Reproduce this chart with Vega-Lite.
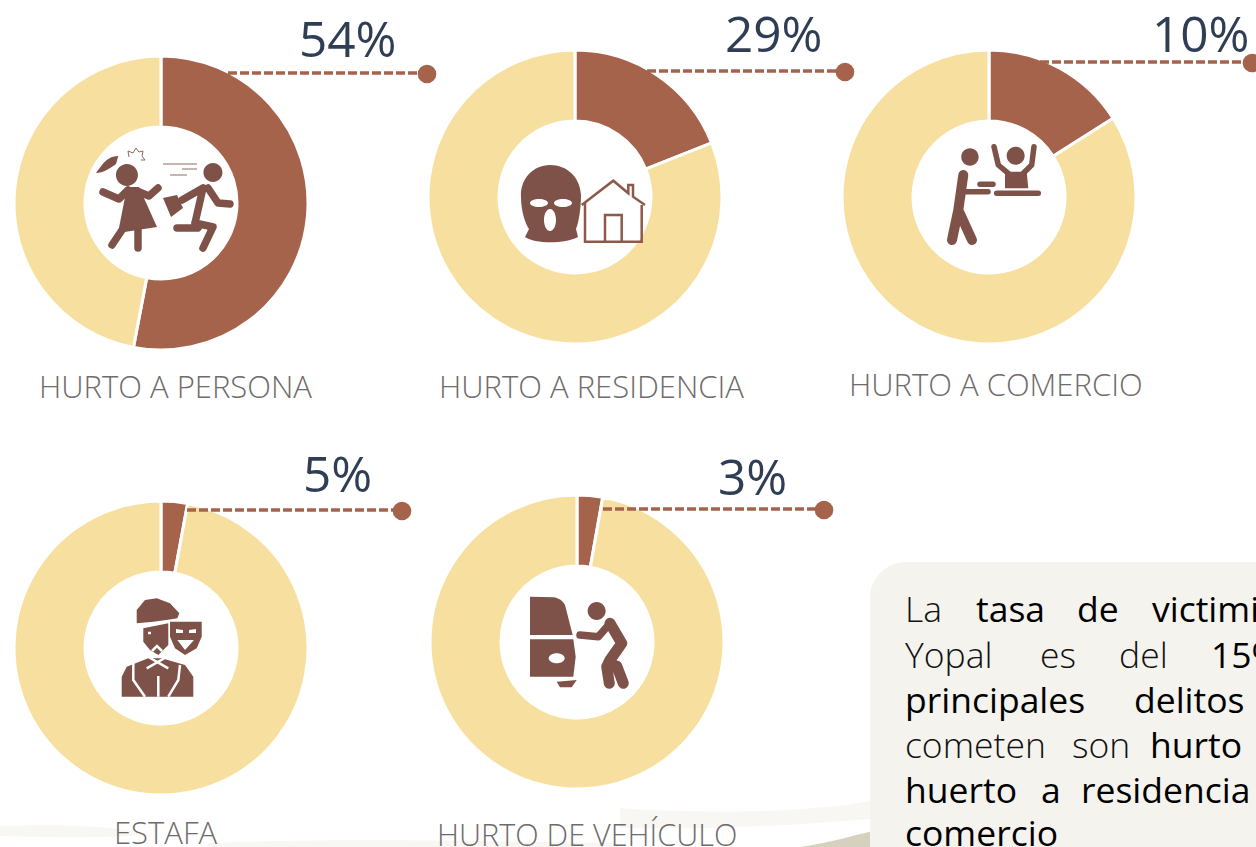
{"$schema":"https://vega.github.io/schema/vega-lite/v6.json","width":1256,"height":847,"padding":0,"autosize":{"type":"none"},"background":"#ffffff","config":{"view":{"stroke":null}},
"datasets":{
"partes":[
{"delito":"HURTO A PERSONA","parte":"delito","valor":53},{"delito":"HURTO A PERSONA","parte":"resto","valor":47},
{"delito":"HURTO A RESIDENCIA","parte":"delito","valor":19},{"delito":"HURTO A RESIDENCIA","parte":"resto","valor":81},
{"delito":"HURTO A COMERCIO","parte":"delito","valor":16},{"delito":"HURTO A COMERCIO","parte":"resto","valor":84},
{"delito":"ESTAFA","parte":"delito","valor":2.9},{"delito":"ESTAFA","parte":"resto","valor":97.1},
{"delito":"HURTO DE VEHÍCULO","parte":"delito","valor":2.8},{"delito":"HURTO DE VEHÍCULO","parte":"resto","valor":97.2}],
"delitos":[
{"delito":"HURTO A PERSONA","etiqueta":"54%"},{"delito":"HURTO A RESIDENCIA","etiqueta":"29%"},{"delito":"HURTO A COMERCIO","etiqueta":"10%"},{"delito":"ESTAFA","etiqueta":"5%"},{"delito":"HURTO DE VEHÍCULO","etiqueta":"3%"}],
"palabras":[{"palabra":"La"},{"palabra":"tasa"},{"palabra":"de"},{"palabra":"victimi"},{"palabra":"Yopal"},{"palabra":"es"},{"palabra":"del"},{"palabra":"15%"},{"palabra":"principales"},{"palabra":"delitos"},{"palabra":"cometen"},{"palabra":"son"},{"palabra":"hurto"},{"palabra":"huerto"},{"palabra":"a"},{"palabra":"residencia"},{"palabra":"comercio"}]
},
"layer":[
{"data":{"name":"palabras"},"transform":[{"filter":{"field":"palabra","equal":"La"}}],"mark":{"type":"point","filled":true,"opacity":1,"size":4,"fill":"#f8f7f3","stroke":null,"shape":"M-628 -1 C-560 -3 -520 -1 -480 7 C-520 12 -580 10 -628 9 Z M-420 16 C-300 11 -150 14 -10 16 L-10 20 L-420 20 Z M-8 -19 C90 -12 180 -15 242 -26 L242 -8 C170 -2 90 3 -8 1 Z"},"encoding":{"x":{"datum":628,"axis":null,"scale":{"domain":[0,1256]}},"y":{"datum":827,"axis":null,"scale":{"domain":[0,847],"range":[0,847]}}}},
{"data":{"name":"palabras"},"transform":[{"filter":{"field":"palabra","equal":"La"}}],"mark":{"type":"point","filled":true,"opacity":1,"size":4,"fill":"#d6d0bf","stroke":null,"shape":"M172 20 C195 17 220 10 245 4 L245 20 Z"},"encoding":{"x":{"datum":628,"scale":{"domain":[0,1256]}},"y":{"datum":827,"scale":{"domain":[0,847],"range":[0,847]}}}},
{"data":{"name":"palabras"},"transform":[{"filter":{"field":"palabra","equal":"La"}}],"mark":{"type":"rect","fill":"#f4f3ee","cornerRadius":36,"clip":true},"encoding":{"x":{"datum":870,"scale":{"domain":[0,1256]}},"x2":{"datum":1330},"y":{"datum":562,"scale":{"domain":[0,847],"range":[0,847]}},"y2":{"datum":900}}},

{"data":{"name":"partes"},"transform":[{"filter":{"field":"delito","equal":"HURTO A PERSONA"}}],"mark":{"type":"arc","radius":147,"radius2":76,"stroke":"#ffffff","strokeWidth":3},"encoding":{"x":{"datum":161,"scale":{"domain":[0,1256]}},"y":{"datum":203,"scale":{"domain":[0,847],"range":[0,847]}},"theta":{"field":"valor","type":"quantitative","stack":true,"scale":{"domain":[0,100],"range":[0,6.2832]}},"color":{"field":"parte","type":"nominal","legend":null,"sort":["delito","resto"],"scale":{"domain":["delito","resto"],"range":["#a5634c","#f7e09f"]}},"order":{"field":"parte"}}},
{"data":{"name":"partes"},"transform":[{"filter":{"field":"delito","equal":"HURTO A RESIDENCIA"}}],"mark":{"type":"arc","radius":147,"radius2":76,"stroke":"#ffffff","strokeWidth":3},"encoding":{"x":{"datum":575,"scale":{"domain":[0,1256]}},"y":{"datum":197,"scale":{"domain":[0,847],"range":[0,847]}},"theta":{"field":"valor","type":"quantitative","stack":true},"color":{"field":"parte","type":"nominal","legend":null},"order":{"field":"parte"}}},
{"data":{"name":"partes"},"transform":[{"filter":{"field":"delito","equal":"HURTO A COMERCIO"}}],"mark":{"type":"arc","radius":147,"radius2":76,"stroke":"#ffffff","strokeWidth":3},"encoding":{"x":{"datum":989,"scale":{"domain":[0,1256]}},"y":{"datum":197,"scale":{"domain":[0,847],"range":[0,847]}},"theta":{"field":"valor","type":"quantitative","stack":true},"color":{"field":"parte","type":"nominal","legend":null},"order":{"field":"parte"}}},
{"data":{"name":"partes"},"transform":[{"filter":{"field":"delito","equal":"ESTAFA"}}],"mark":{"type":"arc","radius":147,"radius2":76,"stroke":"#ffffff","strokeWidth":3},"encoding":{"x":{"datum":161,"scale":{"domain":[0,1256]}},"y":{"datum":648,"scale":{"domain":[0,847],"range":[0,847]}},"theta":{"field":"valor","type":"quantitative","stack":true},"color":{"field":"parte","type":"nominal","legend":null},"order":{"field":"parte"}}},
{"data":{"name":"partes"},"transform":[{"filter":{"field":"delito","equal":"HURTO DE VEHÍCULO"}}],"mark":{"type":"arc","radius":147,"radius2":76,"stroke":"#ffffff","strokeWidth":3},"encoding":{"x":{"datum":577,"scale":{"domain":[0,1256]}},"y":{"datum":642,"scale":{"domain":[0,847],"range":[0,847]}},"theta":{"field":"valor","type":"quantitative","stack":true},"color":{"field":"parte","type":"nominal","legend":null},"order":{"field":"parte"}}},

{"data":{"name":"delitos"},"transform":[{"filter":{"field":"delito","equal":"HURTO A PERSONA"}}],"mark":{"type":"rule","color":"#a5634c","strokeWidth":3.5,"strokeDash":[9,3]},"encoding":{"x":{"datum":228,"scale":{"domain":[0,1256]}},"x2":{"datum":427},"y":{"datum":73,"scale":{"domain":[0,847],"range":[0,847]}}}},
{"data":{"name":"delitos"},"transform":[{"filter":{"field":"delito","equal":"HURTO A RESIDENCIA"}}],"mark":{"type":"rule","color":"#a5634c","strokeWidth":3.5,"strokeDash":[9,3]},"encoding":{"x":{"datum":647,"scale":{"domain":[0,1256]}},"x2":{"datum":845},"y":{"datum":71,"scale":{"domain":[0,847],"range":[0,847]}}}},
{"data":{"name":"delitos"},"transform":[{"filter":{"field":"delito","equal":"HURTO A COMERCIO"}}],"mark":{"type":"rule","color":"#a5634c","strokeWidth":3.5,"strokeDash":[9,3]},"encoding":{"x":{"datum":1040,"scale":{"domain":[0,1256]}},"x2":{"datum":1252},"y":{"datum":62,"scale":{"domain":[0,847],"range":[0,847]}}}},
{"data":{"name":"delitos"},"transform":[{"filter":{"field":"delito","equal":"ESTAFA"}}],"mark":{"type":"rule","color":"#a5634c","strokeWidth":3.5,"strokeDash":[9,3]},"encoding":{"x":{"datum":187,"scale":{"domain":[0,1256]}},"x2":{"datum":402},"y":{"datum":510,"scale":{"domain":[0,847],"range":[0,847]}}}},
{"data":{"name":"delitos"},"transform":[{"filter":{"field":"delito","equal":"HURTO DE VEHÍCULO"}}],"mark":{"type":"rule","color":"#a5634c","strokeWidth":3.5,"strokeDash":[9,3]},"encoding":{"x":{"datum":603,"scale":{"domain":[0,1256]}},"x2":{"datum":824},"y":{"datum":509,"scale":{"domain":[0,847],"range":[0,847]}}}},

{"data":{"name":"delitos"},"transform":[{"filter":{"field":"delito","equal":"HURTO A PERSONA"}}],"mark":{"type":"point","filled":true,"opacity":1,"size":346,"color":"#a5634c"},"encoding":{"x":{"datum":427,"scale":{"domain":[0,1256]}},"y":{"datum":74,"scale":{"domain":[0,847],"range":[0,847]}}}},
{"data":{"name":"delitos"},"transform":[{"filter":{"field":"delito","equal":"HURTO A RESIDENCIA"}}],"mark":{"type":"point","filled":true,"opacity":1,"size":346,"color":"#a5634c"},"encoding":{"x":{"datum":845,"scale":{"domain":[0,1256]}},"y":{"datum":72,"scale":{"domain":[0,847],"range":[0,847]}}}},
{"data":{"name":"delitos"},"transform":[{"filter":{"field":"delito","equal":"HURTO A COMERCIO"}}],"mark":{"type":"point","filled":true,"opacity":1,"size":346,"color":"#a5634c"},"encoding":{"x":{"datum":1252,"scale":{"domain":[0,1256]}},"y":{"datum":63,"scale":{"domain":[0,847],"range":[0,847]}}}},
{"data":{"name":"delitos"},"transform":[{"filter":{"field":"delito","equal":"ESTAFA"}}],"mark":{"type":"point","filled":true,"opacity":1,"size":346,"color":"#a5634c"},"encoding":{"x":{"datum":402,"scale":{"domain":[0,1256]}},"y":{"datum":511,"scale":{"domain":[0,847],"range":[0,847]}}}},
{"data":{"name":"delitos"},"transform":[{"filter":{"field":"delito","equal":"HURTO DE VEHÍCULO"}}],"mark":{"type":"point","filled":true,"opacity":1,"size":346,"color":"#a5634c"},"encoding":{"x":{"datum":824,"scale":{"domain":[0,1256]}},"y":{"datum":510,"scale":{"domain":[0,847],"range":[0,847]}}}},

{"data":{"name":"delitos"},"transform":[{"filter":{"field":"delito","equal":"HURTO A PERSONA"}}],"mark":{"type":"text","align":"left","baseline":"alphabetic","font":"Open Sans","fontWeight":500,"fontSize":49.5,"color":"#2f3e55"},"encoding":{"text":{"field":"etiqueta"},"x":{"datum":299,"scale":{"domain":[0,1256]}},"y":{"datum":57,"scale":{"domain":[0,847],"range":[0,847]}}}},
{"data":{"name":"delitos"},"transform":[{"filter":{"field":"delito","equal":"HURTO A RESIDENCIA"}}],"mark":{"type":"text","align":"left","baseline":"alphabetic","font":"Open Sans","fontWeight":500,"fontSize":49.5,"color":"#2f3e55"},"encoding":{"text":{"field":"etiqueta"},"x":{"datum":725,"scale":{"domain":[0,1256]}},"y":{"datum":52,"scale":{"domain":[0,847],"range":[0,847]}}}},
{"data":{"name":"delitos"},"transform":[{"filter":{"field":"delito","equal":"HURTO A COMERCIO"}}],"mark":{"type":"text","align":"left","baseline":"alphabetic","font":"Open Sans","fontWeight":500,"fontSize":49.5,"color":"#2f3e55"},"encoding":{"text":{"field":"etiqueta"},"x":{"datum":1152,"scale":{"domain":[0,1256]}},"y":{"datum":52,"scale":{"domain":[0,847],"range":[0,847]}}}},
{"data":{"name":"delitos"},"transform":[{"filter":{"field":"delito","equal":"ESTAFA"}}],"mark":{"type":"text","align":"left","baseline":"alphabetic","font":"Open Sans","fontWeight":500,"fontSize":49.5,"color":"#2f3e55"},"encoding":{"text":{"field":"etiqueta"},"x":{"datum":303,"scale":{"domain":[0,1256]}},"y":{"datum":492,"scale":{"domain":[0,847],"range":[0,847]}}}},
{"data":{"name":"delitos"},"transform":[{"filter":{"field":"delito","equal":"HURTO DE VEHÍCULO"}}],"mark":{"type":"text","align":"left","baseline":"alphabetic","font":"Open Sans","fontWeight":500,"fontSize":49.5,"color":"#2f3e55"},"encoding":{"text":{"field":"etiqueta"},"x":{"datum":718,"scale":{"domain":[0,1256]}},"y":{"datum":495,"scale":{"domain":[0,847],"range":[0,847]}}}},

{"data":{"name":"delitos"},"transform":[{"filter":{"field":"delito","equal":"HURTO A PERSONA"}}],"mark":{"type":"text","align":"left","baseline":"alphabetic","font":"Open Sans","fontWeight":300,"fontSize":31,"color":"#6f6b6b"},"encoding":{"text":{"field":"delito"},"x":{"datum":39,"scale":{"domain":[0,1256]}},"y":{"datum":398,"scale":{"domain":[0,847],"range":[0,847]}}}},
{"data":{"name":"delitos"},"transform":[{"filter":{"field":"delito","equal":"HURTO A RESIDENCIA"}}],"mark":{"type":"text","align":"left","baseline":"alphabetic","font":"Open Sans","fontWeight":300,"fontSize":31,"color":"#6f6b6b"},"encoding":{"text":{"field":"delito"},"x":{"datum":439,"scale":{"domain":[0,1256]}},"y":{"datum":398,"scale":{"domain":[0,847],"range":[0,847]}}}},
{"data":{"name":"delitos"},"transform":[{"filter":{"field":"delito","equal":"HURTO A COMERCIO"}}],"mark":{"type":"text","align":"left","baseline":"alphabetic","font":"Open Sans","fontWeight":300,"fontSize":31,"color":"#6f6b6b"},"encoding":{"text":{"field":"delito"},"x":{"datum":849,"scale":{"domain":[0,1256]}},"y":{"datum":396,"scale":{"domain":[0,847],"range":[0,847]}}}},
{"data":{"name":"delitos"},"transform":[{"filter":{"field":"delito","equal":"ESTAFA"}}],"mark":{"type":"text","align":"left","baseline":"alphabetic","font":"Open Sans","fontWeight":300,"fontSize":31,"color":"#6f6b6b"},"encoding":{"text":{"field":"delito"},"x":{"datum":114,"scale":{"domain":[0,1256]}},"y":{"datum":844,"scale":{"domain":[0,847],"range":[0,847]}}}},
{"data":{"name":"delitos"},"transform":[{"filter":{"field":"delito","equal":"HURTO DE VEHÍCULO"}}],"mark":{"type":"text","align":"left","baseline":"alphabetic","font":"Open Sans","fontWeight":300,"fontSize":30.6,"color":"#6f6b6b"},"encoding":{"text":{"field":"delito"},"x":{"datum":437,"scale":{"domain":[0,1256]}},"y":{"datum":846,"scale":{"domain":[0,847],"range":[0,847]}}}},

{"data":{"name":"delitos"},"transform":[{"filter":{"field":"delito","equal":"HURTO A PERSONA"}}],"mark":{"type":"point","filled":true,"opacity":1,"size":4,"color":"#7e5248","shape":"M-34 -39 a11 11 0 1 1 -0.1 0 Z M-42.7 -47 C-55 -47 -60 -36 -65 -30 C-58 -30 -50 -35 -45 -39 Z M-34 -16 L-43 30 L-4 24 L-22 -16 Z M52 -40 a9.5 9.5 0 1 1 -0.1 0 Z M2 -5 L16 -8 L22 5 L10 14 Z"},"encoding":{"x":{"datum":161,"scale":{"domain":[0,1256]}},"y":{"datum":203,"scale":{"domain":[0,847],"range":[0,847]}}}},
{"data":{"name":"delitos"},"transform":[{"filter":{"field":"delito","equal":"HURTO A PERSONA"}}],"mark":{"type":"point","filled":false,"opacity":1,"size":4,"color":"#7e5248","strokeWidth":7.5,"strokeCap":"round","strokeJoin":"round","shape":"M-58 -11 L-42 -4 L-33 -13 M-3 -15 L-12 -7 L-24 -12 M-39 27 L-49 42 M-23 27 L-23 45 M42 -15 L34 20 M42 -15 L21 -3 M47 -15 L57 0 L69 1 M34 20 L37 25 L16 25 M34 20 L52 24 L42 45"},"encoding":{"x":{"datum":161,"scale":{"domain":[0,1256]}},"y":{"datum":203,"scale":{"domain":[0,847],"range":[0,847]}}}},
{"data":{"name":"delitos"},"transform":[{"filter":{"field":"delito","equal":"HURTO A PERSONA"}}],"mark":{"type":"point","filled":false,"opacity":1,"size":4,"color":"#8d6a60","strokeWidth":1,"shape":"M2 -39 L36 -39 M21 -34 L36 -34 M9 -28 L26 -28 M-32 -46 L-33 -52 L-28 -50 L-25 -55 L-22 -51 L-18 -52 L-19 -47 L-16 -43 L-20 -43"},"encoding":{"x":{"datum":161,"scale":{"domain":[0,1256]}},"y":{"datum":203,"scale":{"domain":[0,847],"range":[0,847]}}}},

{"data":{"name":"delitos"},"transform":[{"filter":{"field":"delito","equal":"HURTO A RESIDENCIA"}}],"mark":{"type":"point","filled":true,"opacity":1,"size":4,"color":"#7e5248","shape":"M-25 -32 C-42 -32 -55 -18 -54 0 C-54 15 -49 28 -46 32 L-50 40 C-40 47 -10 47 3 40 L1 32 C4 25 6 10 6 -2 C5 -20 -8 -32 -25 -32 Z M-45 6 a9 4 0 0 1 18 0 a9 4 0 0 1 -18 0 Z M-21 6 a9 4 0 0 1 18 0 a9 4 0 0 1 -18 0 Z M-31 23 a6 11 0 0 1 12 0 a6 11 0 0 1 -12 0 Z"},"encoding":{"x":{"datum":575,"scale":{"domain":[0,1256]}},"y":{"datum":197,"scale":{"domain":[0,847],"range":[0,847]}}}},
{"data":{"name":"delitos"},"transform":[{"filter":{"field":"delito","equal":"HURTO A RESIDENCIA"}}],"mark":{"type":"point","filled":false,"opacity":1,"size":4,"color":"#8d5a4a","strokeWidth":2.5,"shape":"M6.7 8 L38.3 -16.3 L53.3 -3.7 L53.3 -12 L58 -12 L58 -0.3 L70 8 M10 6.3 L10 44.7 L66.7 44.7 L66.7 8 M30 44.7 L30 18 L46.7 18 L46.7 44.7"},"encoding":{"x":{"datum":575,"scale":{"domain":[0,1256]}},"y":{"datum":197,"scale":{"domain":[0,847],"range":[0,847]}}}},

{"data":{"name":"delitos"},"transform":[{"filter":{"field":"delito","equal":"HURTO A COMERCIO"}}],"mark":{"type":"point","filled":true,"opacity":1,"size":4,"color":"#7e5248","shape":"M-19 -48.7 a8.7 8.7 0 1 1 -0.1 0 Z M26.7 -50.3 a9 9 0 1 1 -0.1 0 Z M16 -25.3 L37.7 -25.3 L39.3 -8.7 L16 -8.7 Z"},"encoding":{"x":{"datum":989,"scale":{"domain":[0,1256]}},"y":{"datum":197,"scale":{"domain":[0,847],"range":[0,847]}}}},
{"data":{"name":"delitos"},"transform":[{"filter":{"field":"delito","equal":"HURTO A COMERCIO"}}],"mark":{"type":"point","filled":false,"opacity":1,"size":4,"color":"#7e5248","strokeWidth":10,"strokeCap":"round","strokeJoin":"round","shape":"M-25.7 -22 L-30.7 13 M-30.7 13 L-37 43 M-30.7 13 L-17 43"},"encoding":{"x":{"datum":989,"scale":{"domain":[0,1256]}},"y":{"datum":197,"scale":{"domain":[0,847],"range":[0,847]}}}},
{"data":{"name":"delitos"},"transform":[{"filter":{"field":"delito","equal":"HURTO A COMERCIO"}}],"mark":{"type":"point","filled":false,"opacity":1,"size":4,"color":"#7e5248","strokeWidth":5.5,"strokeCap":"round","strokeJoin":"round","shape":"M-25.7 -5.3 L-1 -5.3 M-9 -12.7 L4 -12.7 M5 -50.3 L9.3 -32 L19.3 -23.7 M45 -50.3 L42.7 -32 L34.3 -23.7 M7.7 -3.7 L49.3 -3.7"},"encoding":{"x":{"datum":989,"scale":{"domain":[0,1256]}},"y":{"datum":197,"scale":{"domain":[0,847],"range":[0,847]}}}},

{"data":{"name":"delitos"},"transform":[{"filter":{"field":"delito","equal":"ESTAFA"}}],"mark":{"type":"point","filled":true,"opacity":1,"size":4,"color":"#7e5248","shape":"M-24.3 -24.7 L-24.3 -38 L-16 -48 L-4.3 -49.7 L9 -44.7 L18.3 -34.7 L16.3 -29.7 L5.7 -28 L-7.7 -26.3 Z M-17.7 -19.7 L7.3 -24.7 L7.3 -3 L-2.7 7 L-11 2 L-17.7 -6.3 Z M9 -26.3 L40.7 -26.3 L40.7 -11.3 L35.7 0.3 L24 7 L14 0.3 L9 -11.3 Z M15 -19 L15 -15 L22 -15 L22 -18 Z M28 -18 L28 -15 L35 -15 L35 -19 Z M16.3 -8 L24 2 L33 -8 Z M-39.3 48.7 L-39.3 28.7 L-34.3 18.7 L-12.7 10.3 L0.7 10.3 L24 17 L32.3 28.7 L32.3 48.7 Z"},"encoding":{"x":{"datum":161,"scale":{"domain":[0,1256]}},"y":{"datum":648,"scale":{"domain":[0,847],"range":[0,847]}}}},
{"data":{"name":"delitos"},"transform":[{"filter":{"field":"delito","equal":"ESTAFA"}}],"mark":{"type":"point","filled":false,"opacity":1,"size":4,"color":"#ffffff","strokeWidth":2.5,"shape":"M-27.7 15.3 L-27.7 32 L-16 48.7 M19 17 L17.3 32 L7.3 48.7 M-16 7 L7.3 20.3 M9 7 L-14.3 20.3 M-9 3 L-4 -2 L1 3 M-13 -15 L-10 -15 M-2.7 28 L-2.7 48.7 M-24 -21 L8 -27"},"encoding":{"x":{"datum":161,"scale":{"domain":[0,1256]}},"y":{"datum":648,"scale":{"domain":[0,847],"range":[0,847]}}}},

{"data":{"name":"delitos"},"transform":[{"filter":{"field":"delito","equal":"HURTO DE VEHÍCULO"}}],"mark":{"type":"point","filled":true,"opacity":1,"size":4,"color":"#7e5248","shape":"M-47 -45.3 L-23.7 -44.7 C-18 -44 -14 -41 -12 -37 L-4.3 -7 L-47 -7 Z M-47 -2.7 L-3.7 -2.7 L-1.3 14.7 L-3.7 34.7 L-47 34.7 Z M-28.3 16.3 a8 5 0 0 0 16 0 a8 5 0 0 0 -16 0 Z M-20.3 39.7 L-0.3 38 L-5.3 45.3 L-17 45.3 Z M19.7 -40 a9 9 0 1 1 -0.1 0 Z"},"encoding":{"x":{"datum":577,"scale":{"domain":[0,1256]}},"y":{"datum":642,"scale":{"domain":[0,847],"range":[0,847]}}}},
{"data":{"name":"delitos"},"transform":[{"filter":{"field":"delito","equal":"HURTO DE VEHÍCULO"}}],"mark":{"type":"point","filled":false,"opacity":1,"size":4,"color":"#7e5248","strokeWidth":11,"strokeCap":"round","strokeJoin":"round","shape":"M33 -18.7 L44.7 1.3 L33 18 L29.7 24.7 L32.3 41.3 M39.7 24 L46.3 41.3"},"encoding":{"x":{"datum":577,"scale":{"domain":[0,1256]}},"y":{"datum":642,"scale":{"domain":[0,847],"range":[0,847]}}}},
{"data":{"name":"delitos"},"transform":[{"filter":{"field":"delito","equal":"HURTO DE VEHÍCULO"}}],"mark":{"type":"point","filled":false,"opacity":1,"size":4,"color":"#7e5248","strokeWidth":7.5,"strokeCap":"round","strokeJoin":"round","shape":"M3 -7 L21.3 -5.3 L33 -18.7"},"encoding":{"x":{"datum":577,"scale":{"domain":[0,1256]}},"y":{"datum":642,"scale":{"domain":[0,847],"range":[0,847]}}}},

{"data":{"name":"palabras"},"transform":[{"filter":{"field":"palabra","equal":"La"}}],"mark":{"type":"text","align":"left","baseline":"alphabetic","font":"Open Sans","fontWeight":300,"fontSize":35.5,"color":"#111111"},"encoding":{"text":{"field":"palabra"},"x":{"datum":905,"scale":{"domain":[0,1256]}},"y":{"datum":622,"scale":{"domain":[0,847],"range":[0,847]}}}},
{"data":{"name":"palabras"},"transform":[{"filter":{"field":"palabra","equal":"tasa"}}],"mark":{"type":"text","align":"left","baseline":"alphabetic","font":"Open Sans","fontSize":35.5,"color":"#000000"},"encoding":{"text":{"field":"palabra"},"x":{"datum":976,"scale":{"domain":[0,1256]}},"y":{"datum":622,"scale":{"domain":[0,847],"range":[0,847]}}}},
{"data":{"name":"palabras"},"transform":[{"filter":{"field":"palabra","equal":"de"}}],"mark":{"type":"text","align":"left","baseline":"alphabetic","font":"Open Sans","fontSize":35.5,"color":"#000000"},"encoding":{"text":{"field":"palabra"},"x":{"datum":1077,"scale":{"domain":[0,1256]}},"y":{"datum":622,"scale":{"domain":[0,847],"range":[0,847]}}}},
{"data":{"name":"palabras"},"transform":[{"filter":{"field":"palabra","equal":"victimi"}}],"mark":{"type":"text","align":"left","baseline":"alphabetic","font":"Open Sans","fontSize":35.5,"color":"#000000"},"encoding":{"text":{"field":"palabra"},"x":{"datum":1152,"scale":{"domain":[0,1256]}},"y":{"datum":622,"scale":{"domain":[0,847],"range":[0,847]}}}},
{"data":{"name":"palabras"},"transform":[{"filter":{"field":"palabra","equal":"Yopal"}}],"mark":{"type":"text","align":"left","baseline":"alphabetic","font":"Open Sans","fontWeight":300,"fontSize":35.5,"color":"#111111"},"encoding":{"text":{"field":"palabra"},"x":{"datum":905,"scale":{"domain":[0,1256]}},"y":{"datum":668,"scale":{"domain":[0,847],"range":[0,847]}}}},
{"data":{"name":"palabras"},"transform":[{"filter":{"field":"palabra","equal":"es"}}],"mark":{"type":"text","align":"left","baseline":"alphabetic","font":"Open Sans","fontWeight":300,"fontSize":35.5,"color":"#111111"},"encoding":{"text":{"field":"palabra"},"x":{"datum":1040,"scale":{"domain":[0,1256]}},"y":{"datum":668,"scale":{"domain":[0,847],"range":[0,847]}}}},
{"data":{"name":"palabras"},"transform":[{"filter":{"field":"palabra","equal":"del"}}],"mark":{"type":"text","align":"left","baseline":"alphabetic","font":"Open Sans","fontWeight":300,"fontSize":35.5,"color":"#111111"},"encoding":{"text":{"field":"palabra"},"x":{"datum":1119,"scale":{"domain":[0,1256]}},"y":{"datum":668,"scale":{"domain":[0,847],"range":[0,847]}}}},
{"data":{"name":"palabras"},"transform":[{"filter":{"field":"palabra","equal":"15%"}}],"mark":{"type":"text","align":"left","baseline":"alphabetic","font":"Open Sans","fontSize":35.5,"color":"#000000"},"encoding":{"text":{"field":"palabra"},"x":{"datum":1211,"scale":{"domain":[0,1256]}},"y":{"datum":668,"scale":{"domain":[0,847],"range":[0,847]}}}},
{"data":{"name":"palabras"},"transform":[{"filter":{"field":"palabra","equal":"principales"}}],"mark":{"type":"text","align":"left","baseline":"alphabetic","font":"Open Sans","fontSize":35.5,"color":"#000000"},"encoding":{"text":{"field":"palabra"},"x":{"datum":905,"scale":{"domain":[0,1256]}},"y":{"datum":713,"scale":{"domain":[0,847],"range":[0,847]}}}},
{"data":{"name":"palabras"},"transform":[{"filter":{"field":"palabra","equal":"delitos"}}],"mark":{"type":"text","align":"left","baseline":"alphabetic","font":"Open Sans","fontSize":35.5,"color":"#000000"},"encoding":{"text":{"field":"palabra"},"x":{"datum":1134,"scale":{"domain":[0,1256]}},"y":{"datum":713,"scale":{"domain":[0,847],"range":[0,847]}}}},
{"data":{"name":"palabras"},"transform":[{"filter":{"field":"palabra","equal":"cometen"}}],"mark":{"type":"text","align":"left","baseline":"alphabetic","font":"Open Sans","fontWeight":300,"fontSize":35.5,"color":"#111111"},"encoding":{"text":{"field":"palabra"},"x":{"datum":905,"scale":{"domain":[0,1256]}},"y":{"datum":758,"scale":{"domain":[0,847],"range":[0,847]}}}},
{"data":{"name":"palabras"},"transform":[{"filter":{"field":"palabra","equal":"son"}}],"mark":{"type":"text","align":"left","baseline":"alphabetic","font":"Open Sans","fontWeight":300,"fontSize":35.5,"color":"#111111"},"encoding":{"text":{"field":"palabra"},"x":{"datum":1072,"scale":{"domain":[0,1256]}},"y":{"datum":758,"scale":{"domain":[0,847],"range":[0,847]}}}},
{"data":{"name":"palabras"},"transform":[{"filter":{"field":"palabra","equal":"hurto"}}],"mark":{"type":"text","align":"left","baseline":"alphabetic","font":"Open Sans","fontSize":35.5,"color":"#000000"},"encoding":{"text":{"field":"palabra"},"x":{"datum":1150,"scale":{"domain":[0,1256]}},"y":{"datum":758,"scale":{"domain":[0,847],"range":[0,847]}}}},
{"data":{"name":"palabras"},"transform":[{"filter":{"field":"palabra","equal":"huerto"}}],"mark":{"type":"text","align":"left","baseline":"alphabetic","font":"Open Sans","fontSize":35.5,"color":"#000000"},"encoding":{"text":{"field":"palabra"},"x":{"datum":905,"scale":{"domain":[0,1256]}},"y":{"datum":803,"scale":{"domain":[0,847],"range":[0,847]}}}},
{"data":{"name":"palabras"},"transform":[{"filter":{"field":"palabra","equal":"a"}}],"mark":{"type":"text","align":"left","baseline":"alphabetic","font":"Open Sans","fontSize":35.5,"color":"#000000"},"encoding":{"text":{"field":"palabra"},"x":{"datum":1041,"scale":{"domain":[0,1256]}},"y":{"datum":803,"scale":{"domain":[0,847],"range":[0,847]}}}},
{"data":{"name":"palabras"},"transform":[{"filter":{"field":"palabra","equal":"residencia"}}],"mark":{"type":"text","align":"left","baseline":"alphabetic","font":"Open Sans","fontSize":35.5,"color":"#000000"},"encoding":{"text":{"field":"palabra"},"x":{"datum":1081,"scale":{"domain":[0,1256]}},"y":{"datum":803,"scale":{"domain":[0,847],"range":[0,847]}}}},
{"data":{"name":"palabras"},"transform":[{"filter":{"field":"palabra","equal":"comercio"}}],"mark":{"type":"text","align":"left","baseline":"alphabetic","font":"Open Sans","fontSize":35.5,"color":"#000000"},"encoding":{"text":{"field":"palabra"},"x":{"datum":905,"scale":{"domain":[0,1256]}},"y":{"datum":846,"scale":{"domain":[0,847],"range":[0,847]}}}}
]}
